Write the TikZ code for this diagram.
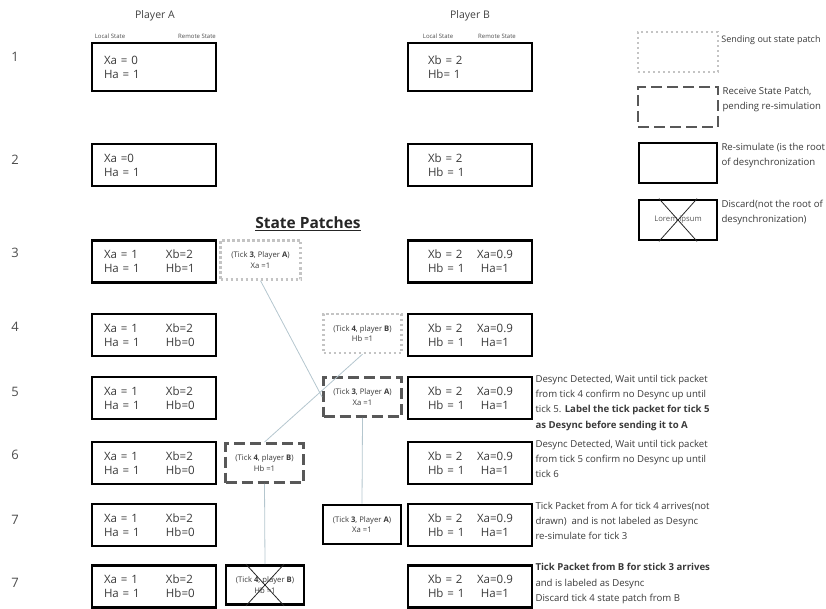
\documentclass[tikz,border=0pt]{standalone}
\usepackage{fontspec}
\setmainfont{Open Sans}
\usetikzlibrary{calc}
\usetikzlibrary{positioning}
\definecolor{inkgray}{HTML}{3A3A3A}
\definecolor{sentgray}{HTML}{C4C4C4}
\definecolor{recvgray}{HTML}{585858}
\definecolor{linkblue}{HTML}{B4C6CE}
\tikzset{
	statebox/.style={
		rectangle,
		draw=black, line width=2.6pt,
		minimum width=124pt,
		minimum height=42pt,
		text width=100pt,
		inner xsep=12pt,
		align=left,
		text=inkgray,
		font=\fontsize{11.5}{14}\selectfont},
	stateboxb/.style={
		statebox,
		text width=84pt,
		inner xsep=20pt},
	patch/.style={
		rectangle,
		minimum width=78pt,
		minimum height=39pt,
		align=center,
		text=inkgray,
		font=\fontsize{7.7}{10.5}\selectfont},
	patchsent/.style={patch, draw=sentgray, line width=2.4pt, dash pattern=on 2.4pt off 2.6pt},
	patchrecv/.style={patch, draw=recvgray, line width=2.8pt, dash pattern=on 11pt off 5pt},
	patchsim/.style={patch, draw=black, line width=2.6pt},
	crossline/.style={draw=black!85, line width=0.8pt},
	link/.style={draw=linkblue, line width=0.8pt},
	rownum/.style={text=black!70, font=\fontsize{13}{15}\selectfont},
	player/.style={text=black!75, font=\fontsize{10.5}{12}\selectfont},
	tiny/.style={text=black!70, font=\fontsize{6}{7}\selectfont},
	note/.style={anchor=north west, align=left, inner xsep=2pt, inner ysep=0pt,
		text=inkgray, font=\fontsize{9.6}{15.3}\selectfont},
	legendnote/.style={note, font=\fontsize{9.6}{15.5}\selectfont},
}
\newcommand{\pairA}[2]{\makebox[62pt][l]{#1}#2}
\newcommand{\pairB}[2]{\makebox[49pt][l]{#1}\makebox[36pt][c]{#2}}

\begin{document}
\begin{tikzpicture}[x=1pt, y=-1pt]
	\useasboundingbox (0,0) rectangle (826,609);
	
	% headers
	\node[player] (pla) at (155,16) {Player A};
	\node[player] (plb) at (470,16) {Player B};
	\node[tiny] (loca) at (110,36) {Local State};
	\node[tiny] (rema) at (197,36) {Remote State};
	\node[tiny] (locb) at (438,36) {Local State};
	\node[tiny] (remb) at (497,36) {Remote State};
	
	% tick numbers
	\node[rownum] (n1) at (15,57) {1};
	\node[rownum] (n2) at (15,160) {2};
	\node[rownum] (n3) at (15,253) {3};
	\node[rownum] (n4) at (15,327) {4};
	\node[rownum] (n5) at (15,392) {5};
	\node[rownum] (n6) at (15,455) {6};
	\node[rownum] (n7) at (15,520) {7};
	\node[rownum] (n8) at (15,583) {7};
	
	% player A
	\node[statebox, minimum height=48pt] (a1) at (154,67) {Xa = 0\\Ha = 1};
	\node[statebox] (a2) at (154,165) {Xa =0\\Ha = 1};
	\node[statebox] (a3) at (154,261.5) {\pairA{Xa = 1}{Xb=2}\\\pairA{Ha = 1}{Hb=1}};
	\node[statebox] (a4) at (154,335) {\pairA{Xa = 1}{Xb=2}\\\pairA{Ha = 1}{Hb=0}};
	\node[statebox] (a5) at (154,398) {\pairA{Xa = 1}{Xb=2}\\\pairA{Ha = 1}{Hb=0}};
	\node[statebox] (a6) at (154,463) {\pairA{Xa = 1}{Xb=2}\\\pairA{Ha = 1}{Hb=0}};
	\node[statebox] (a7) at (154,525) {\pairA{Xa = 1}{Xb=2}\\\pairA{Ha = 1}{Hb=0}};
	\node[statebox] (a8) at (154,586.5) {\pairA{Xa = 1}{Xb=2}\\\pairA{Ha = 1}{Hb=0}};
	
	% player B
	\node[stateboxb, minimum height=48pt] (b1) at (470,67) {Xb = 2\\Hb= 1};
	\node[stateboxb] (b2) at (470,165) {Xb = 2\\Hb = 1};
	\node[stateboxb] (b3) at (470,261.5) {\pairB{Xb = 2}{Xa=0.9}\\\pairB{Hb = 1}{Ha=1}};
	\node[stateboxb] (b4) at (470,335) {\pairB{Xb = 2}{Xa=0.9}\\\pairB{Hb = 1}{Ha=1}};
	\node[stateboxb] (b5) at (470,398) {\pairB{Xb = 2}{Xa=0.9}\\\pairB{Hb = 1}{Ha=1}};
	\node[stateboxb] (b6) at (470,463) {\pairB{Xb = 2}{Xa=0.9}\\\pairB{Hb = 1}{Ha=1}};
	\node[stateboxb] (b7) at (470,525) {\pairB{Xb = 2}{Xa=0.9}\\\pairB{Hb = 1}{Ha=1}};
	\node[stateboxb] (b8) at (470,586.5) {\pairB{Xb = 2}{Xa=0.9}\\\pairB{Hb = 1}{Ha=1}};
	
	% state patches
	\node[text=black!85, font=\fontsize{15.5}{17}\selectfont\bfseries] (title) at (308,224) {\underline{State Patches}};
	\node[patchsent, minimum width=80pt] (p3) at (260.5,260) {(Tick \textbf{3}, Player \textbf{A})\\Xa =1};
	\node[patchsent] (p4) at (362.5,333.5) {(Tick \textbf{4}, player \textbf{B})\\Hb =1};
	\node[patchrecv] (p5) at (362.5,397) {(Tick \textbf{3}, Player \textbf{A})\\Xa =1};
	\node[patchrecv] (p6) at (264.5,463) {(Tick \textbf{4}, player \textbf{B})\\Hb =1};
	\node[patchsim] (p7) at (362,524.5) {(Tick \textbf{3}, Player \textbf{A})\\Xa =1};
	\node[patchsim] (p8) at (265,585) {(Tick \textbf{4}, player \textbf{B})\\Hb =1};
	\draw[crossline] ($(p8.north)+(-19,0)$) -- ($(p8.south)+(19,0)$);
	\draw[crossline] ($(p8.north)+(19,0)$) -- ($(p8.south)+(-19,0)$);
	
	\draw[link] (p3.south) -- (p5.west);
	\draw[link] (p4.south) -- (p6.north);
	\draw[link] (p5.south) -- (p7.north);
	\draw[link] (p6.south) -- (p8.north);
	
	% notes
	\node[note] (t5) at ($(b5.north east)+(0,-1)$) {Desync Detected, Wait until tick packet\\from tick 4 confirm no Desync up until\\tick 5. \textbf{Label the tick packet for tick 5}\\\textbf{as Desync before sending it to A}};
	\node[note] (t6) at ($(b6.north east)+(0,-1)$) {Desync Detected, Wait until tick packet\\from tick 5 confirm no Desync up until\\tick 6};
	\node[note] (t7) at ($(b7.north east)+(0,-1)$) {Tick Packet from A for tick 4 arrives(not\\drawn)\ \ and is not labeled as Desync\\re-simulate for tick 3};
	\node[note] (t8) at ($(b8.north east)+(0,-1)$) {\textbf{Tick Packet from B for stick 3 arrives}\\and is labeled as Desync\\Discard tick 4 state patch from B};
	
	% legend
	\node[patchsent, minimum width=80pt, minimum height=40pt] (l1) at (678,52) {};
	\node[patchrecv, minimum width=80pt, minimum height=40pt] (l2) at (678,107) {};
	\node[patchsim, minimum height=40pt] (l3) at (678,163) {};
	\node[patchsim, minimum height=40pt, text=black!65] (l4) at (678,220) {Lorem ipsum};
	\draw[crossline] ($(l4.north)+(-19,0)$) -- ($(l4.south)+(19,0)$);
	\draw[crossline] ($(l4.north)+(19,0)$) -- ($(l4.south)+(-19,0)$);
	\node[legendnote, inner xsep=1pt, font=\fontsize{9}{15.5}\selectfont] (d1) at ($(l1.north east)+(1,5)$) {Sending out state patch};
	\node[legendnote] (d2) at ($(l2.north east)+(1,1)$) {Receive State Patch,\\pending re-simulation};
	\node[legendnote] (d3) at ($(l3.north east)+(1,1)$) {Re-simulate (is the root\\of desynchronization};
	\node[legendnote] (d4) at ($(l4.north east)+(1,1)$) {Discard(not the root of\\desynchronization)};
\end{tikzpicture}
\end{document}
